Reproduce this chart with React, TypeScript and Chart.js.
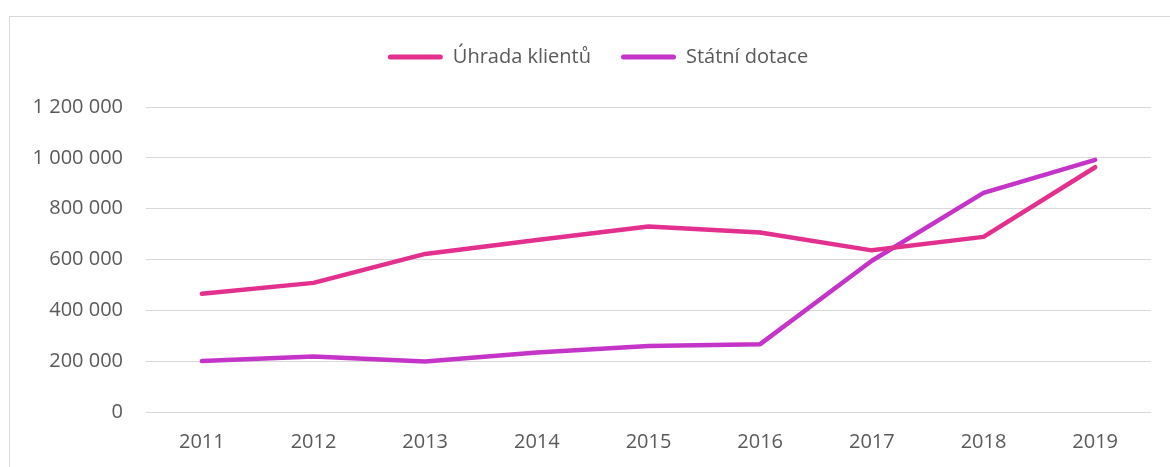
import React, { useEffect, useRef } from "react";
import { Chart, registerables } from "chart.js";

Chart.register(...registerables);

const years = ["2011", "2012", "2013", "2014", "2015", "2016", "2017", "2018", "2019"];
const uhradaKlientu = [465000, 508000, 622000, 677000, 730000, 706000, 636000, 689000, 963000];
const statniDotace = [201000, 218000, 199000, 234000, 260000, 267000, 595000, 862000, 992000];
const seriesNames = ["Úhrada klientů", "Státní dotace"];
const seriesColors = ["#E3308E", "#C534C9"];

const fmt = (v: number) => String(Math.round(v)).replace(/\B(?=(\d{3})+(?!\d))/g, " ");

export default function App() {
  const ref = useRef<HTMLCanvasElement | null>(null);
  useEffect(() => {
    if (!ref.current) return;
    const FONT = "'Open Sans', sans-serif";
    const legendTweak = {
      id: "legendTweak",
      beforeInit(chart: any) {
        const orig = chart.legend.fit;
        chart.legend.fit = function () {
          orig.call(this);
          this.height = 90;
        };
      },
      afterLayout(chart: any) {
        chart.legend.left = 45;
        chart.legend.right = 1151;
      },
    };
    const chart = new Chart(ref.current, {
      type: "line",
      data: {
        labels: years,
        datasets: [uhradaKlientu, statniDotace].map((d, i) => ({
          label: seriesNames[i],
          data: d,
          borderColor: seriesColors[i],
          backgroundColor: seriesColors[i],
          borderWidth: 4.5,
          borderCapStyle: "round" as const,
          borderJoinStyle: "round" as const,
          pointRadius: 0,
          tension: 0,
        })),
      },
      options: {
        animation: false,
        responsive: false,
        maintainAspectRatio: false,
        layout: { padding: { top: 17, left: 0, right: 19, bottom: 0 } },
        plugins: {
          tooltip: { enabled: false },
          legend: {
            position: "top",
            labels: {
              color: "#595959",
              font: { family: FONT, size: 20 },
              boxWidth: 55,
              boxHeight: 5,
              padding: 30,
              useBorderRadius: true,
              borderRadius: 2.5,
              generateLabels: (c: any) =>
                Chart.defaults.plugins.legend.labels
                  .generateLabels(c)
                  .map((l: any) => ({ ...l, lineWidth: 0 })),
            },
          },
        },
        scales: {
          x: {
            offset: true,
            grid: { display: false, drawTicks: false },
            border: { display: false },
            ticks: { color: "#595959", font: { family: FONT, size: 20 }, padding: 18, maxRotation: 0 },
            afterFit: (s: any) => {
              s.height = 55;
            },
          },
          y: {
            min: 0,
            max: 1200000,
            grid: { color: "#d9d9d9", lineWidth: 1, drawTicks: false },
            border: { display: false },
            ticks: {
              stepSize: 200000,
              color: "#595959",
              font: { family: FONT, size: 20 },
              padding: 23,
              callback: (v: any) => fmt(Number(v)),
            },
            afterFit: (s: any) => {
              s.width = 146;
            },
          },
        },
      },
      plugins: [legendTweak],
    } as any);
    return () => chart.destroy();
  }, []);
  return (
    <div style={{ position: "fixed", left: 0, top: 0, width: 1170, height: 467, overflow: "hidden", background: "#fff" }}>
      <div
        style={{
          position: "absolute",
          left: 9,
          top: 16,
          width: 1200,
          height: 500,
          border: "1.5px solid #d9d9d9",
        }}
      />
      <canvas ref={ref} width={1170} height={467} style={{ position: "absolute", left: 0, top: 0 }} />
    </div>
  );
}
